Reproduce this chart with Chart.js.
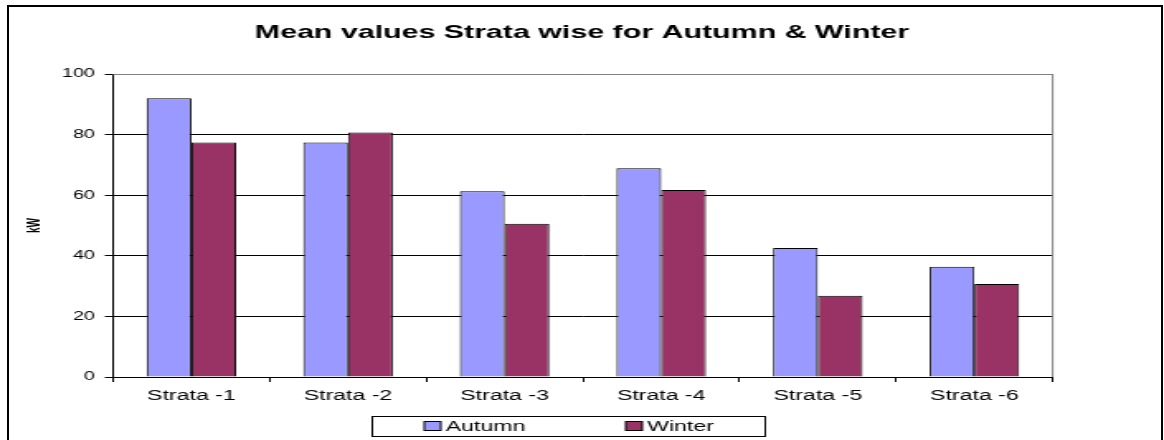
<!DOCTYPE html>
<html>
<head>
<meta charset="utf-8">
<script src="https://cdn.jsdelivr.net/npm/chart.js@4.4.1/dist/chart.umd.min.js"></script>
<style>
  html, body { margin: 0; padding: 0; background: #fff; overflow: hidden; }
  #stretch { position: absolute; left: 0; top: 0; transform: scaleX(1.651); transform-origin: 0 0; }
  #frame { position: absolute; left: 7px; top: 5px; width: 1152px; height: 440px; border: 2px solid #000; border-bottom: none; }
</style>
</head>
<body>
<div id="stretch"><canvas id="chart" width="705" height="440"></canvas></div>
<div id="frame"></div>
<script>
const categories = ['Strata -1', 'Strata -2', 'Strata -3', 'Strata -4', 'Strata -5', 'Strata -6']
const autumn = [92, 77.4, 61.3, 68.9, 42.6, 36.4]
const winter = [77.4, 80.7, 50.6, 61.7, 26.8, 30.7]
const yTicks = [0, 20, 40, 60, 80, 100]

const font = '"Liberation Sans", Arial, sans-serif'
Chart.defaults.color = '#000'
Chart.defaults.font.family = font

// top and right edge of the plot area are grey
const plotFrame = {
  id: 'plotFrame',
  afterDraw(chart) {
    const { ctx, chartArea: a } = chart
    ctx.save()
    ctx.strokeStyle = '#808080'
    ctx.lineWidth = 1
    ctx.beginPath()
    ctx.moveTo(a.left, Math.round(a.top) + 0.5)
    ctx.lineTo(a.right, Math.round(a.top) + 0.5)
    ctx.lineTo(a.right, a.bottom)
    ctx.stroke()
    ctx.restore()
  }
}

// legend sits in a box under the axis
const boxedLegend = {
  id: 'boxedLegend',
  afterDraw(chart) {
    const ctx = chart.ctx
    const starts = [257, 379]
    ctx.save()
    ctx.strokeStyle = '#000'
    ctx.lineWidth = 1
    ctx.strokeRect(225.5, 416.5, 238, 20)
    ctx.font = '14px ' + font
    ctx.textBaseline = 'middle'
    chart.data.datasets.forEach((ds, i) => {
      ctx.fillStyle = ds.backgroundColor
      ctx.fillRect(starts[i], 421.5, 10, 9)
      ctx.strokeRect(starts[i], 421.5, 10, 9)
      ctx.fillStyle = '#000'
      ctx.fillText(ds.label, starts[i] + 13, 427)
    })
    ctx.restore()
  }
}

new Chart(document.getElementById('chart'), {
  type: 'bar',
  data: {
    labels: categories,
    datasets: [
      { label: 'Autumn', data: autumn, backgroundColor: '#9999FF', borderColor: '#000', borderWidth: 1 },
      { label: 'Winter', data: winter, backgroundColor: '#993366', borderColor: '#000', borderWidth: 1 },
    ],
  },
  options: {
    responsive: false,
    animation: false,
    categoryPercentage: 2 / 3.5,
    barPercentage: 1,
    layout: { padding: { left: 0, right: 0, top: 0, bottom: 33 } },
    plugins: {
      legend: { display: false },
      tooltip: { enabled: false },
      title: {
        display: true,
        text: 'Mean values Strata wise for Autumn & Winter',
        font: { size: 18.4, weight: 'bold' },
        padding: { top: 22, bottom: 30 },
      },
    },
    scales: {
      x: {
        afterFit: s => { s.height = 30 },
        grid: { drawOnChartArea: false, drawTicks: true, tickLength: 5, color: '#000' },
        border: { color: '#000' },
        ticks: { font: { size: 14 }, padding: 6, maxRotation: 0 },
      },
      y: {
        min: 0,
        max: 100,
        afterFit: s => { s.width = 68.5 },
        afterBuildTicks: s => { s.ticks = yTicks.map(v => ({ value: v })) },
        grid: { color: '#000', tickLength: 5 },
        border: { color: '#000' },
        ticks: { font: { size: 12 }, padding: 6 },
        title: { display: true, text: 'kW', font: { size: 10, weight: 'bold' }, padding: { top: 15.5, bottom: 0 } },
      },
      // empty spacer on the right so the title centres on the whole canvas
      spacer: {
        position: 'right',
        afterFit: s => { s.width = 67.4 },
        grid: { display: false },
        border: { display: false },
        ticks: { display: false },
      },
    },
  },
  plugins: [plotFrame, boxedLegend],
})
</script>
</body>
</html>
